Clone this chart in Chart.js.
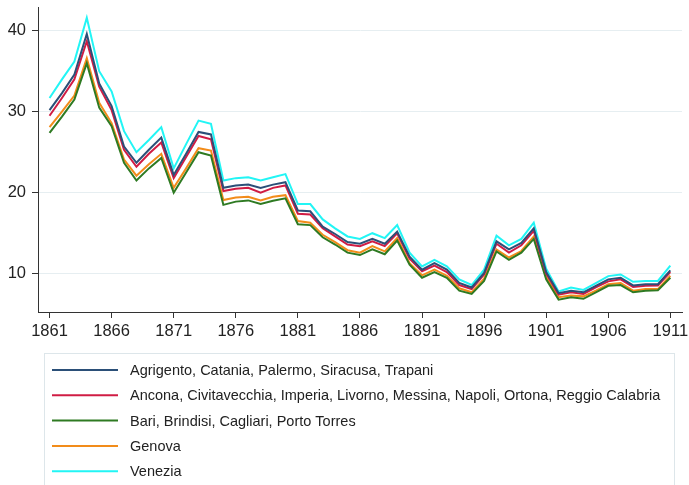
<!DOCTYPE html>
<html>
<head>
<meta charset="utf-8">
<script src="https://cdn.jsdelivr.net/npm/chart.js@4.4.1/dist/chart.umd.min.js"></script>
<style>
  html, body { margin: 0; padding: 0; background: #fff; }
  #wrap { width: 689px; height: 485px; position: relative; }
</style>
</head>
<body>
<div id="wrap"><canvas id="chart"></canvas></div>
<script>
// years on the x axis
const years = [1861,1862,1863,1864,1865,1866,1867,1868,1869,1870,
  1871,1872,1873,1874,1875,1876,1877,1878,1879,1880,
  1881,1882,1883,1884,1885,1886,1887,1888,1889,1890,
  1891,1892,1893,1894,1895,1896,1897,1898,1899,1900,
  1901,1902,1903,1904,1905,1906,1907,1908,1909,1910,1911];
const xTicks = [1861,1866,1871,1876,1881,1886,1891,1896,1901,1906,1911];
const yTicks = [10,20,30,40];

const seriesNames = [
  "Agrigento, Catania, Palermo, Siracusa, Trapani",
  "Ancona, Civitavecchia, Imperia, Livorno, Messina, Napoli, Ortona, Reggio Calabria",
  "Bari, Brindisi, Cagliari, Porto Torres",
  "Genova",
  "Venezia"
];

const agrigento = [30.2,32.3,34.6,39.6,33.5,30.7,25.7,23.7,25.3,26.8,
  22.2,24.8,27.5,27.2,20.6,20.9,21.0,20.6,21.0,21.3,
  17.8,17.7,15.8,14.9,13.9,13.7,14.3,13.7,15.2,12.1,
  10.5,11.3,10.5,8.85,8.3,10.1,14.0,13.0,13.8,15.6,
  10.2,7.6,7.9,7.7,8.5,9.3,9.5,8.55,8.7,8.7,10.4];
const ancona = [29.5,31.7,34.0,38.7,33.1,30.2,25.3,23.2,24.8,26.2,
  21.8,24.4,27.0,26.6,20.2,20.5,20.6,20.0,20.6,20.9,
  17.4,17.3,15.6,14.6,13.6,13.4,14.0,13.4,15.0,11.85,
  10.3,11.0,10.2,8.6,8.1,9.9,13.7,12.6,13.5,15.3,
  10.0,7.4,7.7,7.5,8.3,9.05,9.3,8.35,8.5,8.55,10.2];
const bari = [27.4,29.4,31.5,36.0,30.5,28.2,23.7,21.5,23.0,24.3,
  20.0,22.5,25.0,24.6,18.5,18.9,19.05,18.6,19.0,19.3,
  16.1,16.0,14.5,13.6,12.6,12.3,13.0,12.4,14.1,11.1,
  9.5,10.2,9.5,7.9,7.5,9.1,12.75,11.7,12.6,14.3,
  9.3,6.8,7.1,6.9,7.7,8.5,8.6,7.7,7.9,7.95,9.5];
const genova = [28.1,30.0,32.0,36.6,31.1,28.6,24.1,22.1,23.5,24.8,
  20.6,23.0,25.5,25.2,19.1,19.4,19.5,19.05,19.5,19.7,
  16.5,16.3,14.8,13.9,12.9,12.6,13.4,12.75,14.4,11.3,
  9.8,10.5,9.75,8.2,7.7,9.4,13.0,12.0,12.8,14.6,
  9.6,7.1,7.3,7.2,7.9,8.7,8.85,7.9,8.1,8.1,9.75];
const venezia = [31.7,34.0,36.2,41.6,35.0,32.5,27.6,25.0,26.5,28.1,
  23.0,26.0,28.9,28.5,21.5,21.8,21.9,21.5,21.9,22.3,
  18.6,18.6,16.7,15.6,14.6,14.3,15.0,14.4,16.0,12.6,
  10.9,11.7,10.9,9.3,8.6,10.5,14.7,13.5,14.3,16.3,
  10.6,7.8,8.3,8.0,8.85,9.7,9.9,9.0,9.1,9.1,11.0];

const seriesValues = [agrigento, ancona, bari, genova, venezia];
const seriesColors = ["#2b4f78", "#d01c44", "#2e7a22", "#f28c1a", "#22f5f5"];

const datasets = seriesNames.map((name, i) => ({
  label: name,
  data: years.map((y, j) => ({ x: y, y: seriesValues[i][j] })),
  borderColor: seriesColors[i],
  borderWidth: 2,
  pointRadius: 0,
  tension: 0,
  fill: false
}));

// legend drawn in a box below the plot, one entry per row
const boxLegend = {
  id: "boxLegend",
  afterDraw(chart) {
    const ctx = chart.ctx;
    ctx.save();
    ctx.strokeStyle = "#dde6ea";
    ctx.lineWidth = 1;
    ctx.strokeRect(44.5, 353.5, 630, 200);
    ctx.font = '14.5px "Liberation Sans", Arial, sans-serif';
    ctx.textBaseline = "middle";
    ctx.fillStyle = "#222";
    chart.data.datasets.forEach((ds, i) => {
      const y = 370 + i * 25.3;
      ctx.strokeStyle = ds.borderColor;
      ctx.lineWidth = 2;
      ctx.beginPath(); ctx.moveTo(52, y); ctx.lineTo(118, y); ctx.stroke();
      ctx.fillText(ds.label, 130, y + 1);
    });
    ctx.restore();
  }
};

new Chart(document.getElementById("chart"), {
  type: "line",
  data: { datasets },
  plugins: [boxLegend],
  options: {
    responsive: true,
    maintainAspectRatio: false,
    animation: false,
    layout: { padding: { top: 7, right: 7, left: 0, bottom: 0 } },
    plugins: { legend: { display: false }, tooltip: { enabled: false } },
    scales: {
      x: {
        type: "linear",
        min: 1860.07, max: 1911.94,
        afterBuildTicks: s => { s.ticks = xTicks.map(v => ({ value: v })); },
        afterFit: s => { s.height = 173; s.paddingLeft = 0; s.paddingRight = 0; },
        grid: { drawOnChartArea: false, tickLength: 6, tickColor: "#333" },
        border: { color: "#333", width: 1 },
        ticks: { callback: v => String(v), color: "#222", padding: 4, maxRotation: 0,
                 font: { family: '"Liberation Sans", Arial, sans-serif', size: 16.5 } }
      },
      y: {
        min: 5.27, max: 42.93,
        afterBuildTicks: s => { s.ticks = yTicks.map(v => ({ value: v })); },
        afterFit: s => { s.width = 38; s.paddingTop = 0; s.paddingBottom = 0; },
        grid: { color: "#e6eef1", lineWidth: 1, tickLength: 6, tickColor: "#333" },
        border: { color: "#333", width: 1 },
        ticks: { color: "#222", padding: 6,
                 font: { family: '"Liberation Sans", Arial, sans-serif', size: 16.5 } }
      }
    }
  }
});
</script>
</body>
</html>
